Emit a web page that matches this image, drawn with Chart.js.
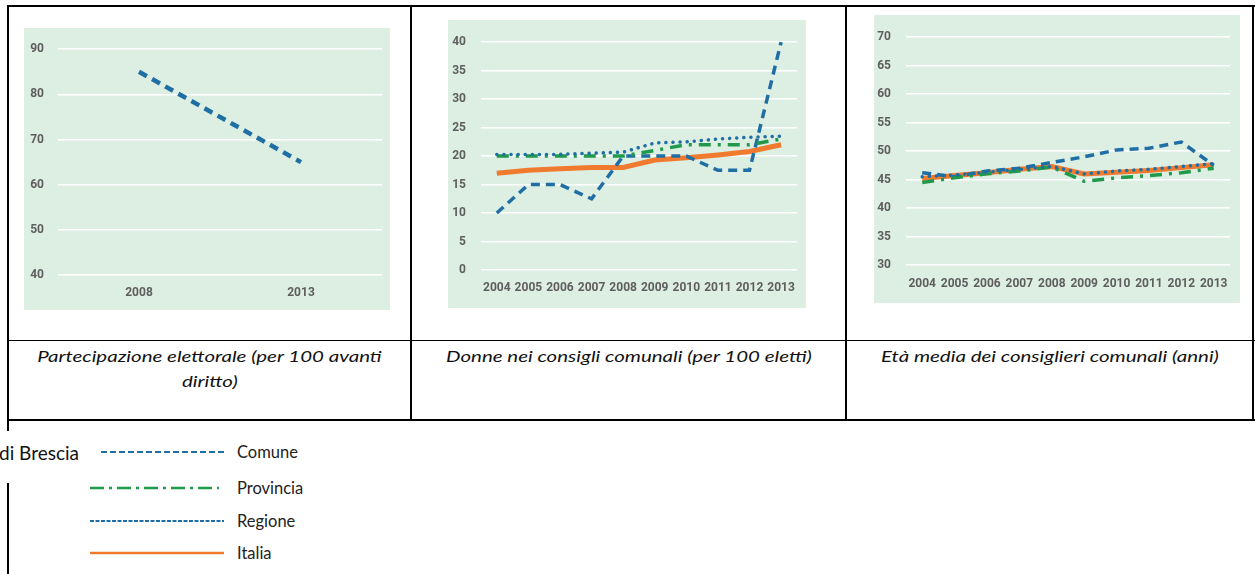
<!DOCTYPE html>
<html>
<head>
<meta charset="utf-8">
<script src="https://cdn.jsdelivr.net/npm/chart.js@4"></script>
<style>
  body { margin: 0; background: #fff; }
  #page { position: relative; width: 1255px; height: 574px; overflow: hidden; font-family: Lato, "Open Sans", sans-serif; }
  .box { position: absolute; background: #ddeee3; }
  .hl, .vl { position: absolute; background: #000; }
  .cap { position: absolute; text-align: center; font-style: italic; font-size: 16px; line-height: 25px; color: #111; }
  .cap span { display: inline-block; transform: scaleX(1.28); transform-origin: center; }
  .lg { position: absolute; font-size: 16.5px; color: #222; }
</style>
</head>
<body>
<div id="page">
  <!-- table frame -->
  <div class="hl" style="left:7px; top:5px; width:1248px; height:2px;"></div>
  <div class="vl" style="left:7px; top:5px; width:2px; height:416px;"></div>
  <div class="vl" style="left:410px; top:5px; width:2px; height:416px;"></div>
  <div class="vl" style="left:845px; top:5px; width:2px; height:416px;"></div>
  <div class="vl" style="left:1252px; top:5px; width:2px; height:416px;"></div>
  <div class="hl" style="left:7px; top:340px; width:1248px; height:1px;"></div>
  <div class="hl" style="left:7px; top:419px; width:1248px; height:2px;"></div>
  <div class="vl" style="left:7px; top:421px; width:2px; height:10px;"></div>
  <div class="vl" style="left:7px; top:483px; width:2px; height:91px;"></div>

  <div class="box" style="left:24px; top:28px; width:366px; height:282px;"><canvas id="c1" width="366" height="282"></canvas></div>
  <div class="box" style="left:448px; top:20px; width:358px; height:288px;"><canvas id="c2" width="358" height="288"></canvas></div>
  <div class="box" style="left:874px; top:15px; width:366px; height:288px;"><canvas id="c3" width="366" height="288"></canvas></div>

  <div class="cap" style="left:9px; top:343px; width:401px;"><span>Partecipazione elettorale (per 100 avanti</span><br><span>diritto)</span></div>
  <div class="cap" style="left:412px; top:343px; width:433px;"><span>Donne nei consigli comunali (per 100 eletti)</span></div>
  <div class="cap" style="left:847px; top:343px; width:405px;"><span>Età media dei consiglieri comunali (anni)</span></div>

  <!-- legend -->
  <div class="lg" style="left:-1px; top:441px; font-size:19px; color:#111;">di Brescia</div>
  <svg style="position:absolute; left:0; top:430px;" width="240" height="140">
    <line x1="101" y1="22" x2="224" y2="22" stroke="#1f6fa5" stroke-width="2.2" stroke-dasharray="6 3"/>
    <line x1="90" y1="58" x2="219" y2="58" stroke="#1f9a4b" stroke-width="2.4" stroke-dasharray="14 5 3 5"/>
    <line x1="90" y1="91" x2="224" y2="91" stroke="#1f6fa5" stroke-width="2" stroke-dasharray="4 1.5"/>
    <line x1="90" y1="123" x2="224" y2="123" stroke="#f07a2e" stroke-width="2.6"/>
  </svg>
  <div class="lg" style="left:237px; top:442px;">Comune</div>
  <div class="lg" style="left:237px; top:478px;">Provincia</div>
  <div class="lg" style="left:237px; top:511px;">Regione</div>
  <div class="lg" style="left:237px; top:543px;">Italia</div>
</div>
<script>
// --- data ---
const years1 = ['2008', '2013'];
const affluenzaComune = [85, 65];

const years = ['2004', '2005', '2006', '2007', '2008', '2009', '2010', '2011', '2012', '2013'];

const donneComune    = [10, 15, 15, 12.5, 20, 20, 20, 17.5, 17.5, 40];
const donneProvincia = [20, 20, 20, 20, 20, 21, 22, 22, 22, 23];
const donneRegione   = [20.3, 20.3, 20.3, 20.5, 20.7, 22.3, 22.5, 23, 23.3, 23.5];
const donneItalia    = [17, 17.5, 17.8, 18, 18, 19.3, 19.7, 20.2, 20.8, 22];

const etaComune    = [46.2, 45.5, 46.5, 47, 48, 49, 50.2, 50.5, 51.6, 47.5];
const etaProvincia = [44.5, 45.3, 46, 46.5, 47.2, 44.7, 45.3, 45.7, 46.2, 47];
const etaRegione   = [45.5, 45.8, 46.3, 46.8, 47.3, 46, 46.5, 46.8, 47.3, 47.8];
const etaItalia    = [45.2, 45.7, 46.2, 46.8, 47.3, 46, 46.3, 46.6, 47.1, 47.6];

const BLUE = '#1f6fa5', GREEN = '#1f9a4b', ORANGE = '#f07a2e';
const tickFont = { family: "Roboto, 'Liberation Sans', sans-serif", size: 12, weight: 'bold' };
const tickColor = '#5e5e5e';

function styles() {
    return {
        comune:    { borderColor: BLUE, borderWidth: 3.5, borderDash: [9, 6], pointRadius: 0, tension: 0 },
        provincia: { borderColor: GREEN, borderWidth: 3.5, borderDash: [12, 7, 3, 7], pointRadius: 0, tension: 0 },
        regione:   { borderColor: BLUE, borderWidth: 3.5, borderDash: [0.1, 7], borderCapStyle: 'round', pointRadius: 0, tension: 0 },
        italia:    { borderColor: ORANGE, borderWidth: 5, pointRadius: 0, tension: 0 }
    };
}

function makeChart(id, labels, datasets, yMin, yMax, step, yW, xH, pad, yPad, xPad) {
    return new Chart(document.getElementById(id), {
        type: 'line',
        data: { labels: labels, datasets: datasets },
        options: {
            responsive: false,
            animation: false,
            layout: { padding: pad },
            plugins: { legend: { display: false }, tooltip: { enabled: false } },
            elements: { line: { fill: false } },
            scales: {
                x: {
                    offset: true,
                    grid: { display: false, drawTicks: false },
                    border: { display: false },
                    ticks: { color: tickColor, font: tickFont, padding: xPad, maxRotation: 0, autoSkip: false },
                    afterFit: s => { s.height = xH; }
                },
                y: {
                    min: yMin, max: yMax,
                    grid: { color: '#ffffff', lineWidth: 1.5, drawTicks: false },
                    border: { display: false },
                    ticks: { stepSize: step, color: tickColor, font: tickFont, padding: yPad },
                    afterFit: s => { s.width = yW; }
                }
            }
        }
    });
}

let st = styles();
makeChart('c1', years1, [
    Object.assign({ data: affluenzaComune, clip: false }, st.comune, { borderWidth: 4.5 })
], 40, 90, 10, 34, 35, { top: 20, right: 8 }, 14, 11);

st = styles();
makeChart('c2', years, [
    Object.assign({ data: donneRegione, clip: false }, st.regione),
    Object.assign({ data: donneProvincia, clip: false }, st.provincia),
    Object.assign({ data: donneComune, clip: false }, st.comune),
    Object.assign({ data: donneItalia, clip: false }, st.italia)
], 0, 40, 5, 33, 38, { top: 20, right: 3 }, 15, 11);

st = styles();
makeChart('c3', years, [
    Object.assign({ data: etaRegione, clip: false }, st.regione),
    Object.assign({ data: etaProvincia, clip: false }, st.provincia),
    Object.assign({ data: etaComune, clip: false }, st.comune),
    Object.assign({ data: etaItalia, clip: false }, st.italia)
], 30, 70, 5, 32, 38, { top: 21, right: 10 }, 15, 12);
</script>
</body>
</html>
